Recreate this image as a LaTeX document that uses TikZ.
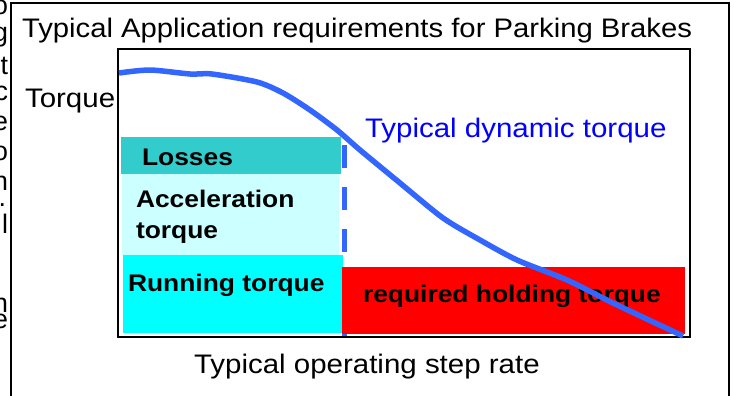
\documentclass[tikz,border=0pt]{standalone}
\usepackage{fontspec}
\setmainfont{Liberation Sans}
\definecolor{lossC}{HTML}{33CCCC}
\definecolor{accC}{HTML}{CCFFFF}
\definecolor{runC}{HTML}{00FFFF}
\definecolor{holdC}{HTML}{FF0000}
\definecolor{curveC}{HTML}{3366FF}
\definecolor{dynC}{HTML}{0000FF}
\newcommand{\sx}[1]{\scalebox{1.1}[1]{#1}}
\newcommand{\sxt}[1]{\scalebox{1.092}[1]{#1}}
\tikzset{
  regfont/.style={font=\fontsize{26.8}{30}\selectfont},
  boldfont/.style={font=\fontsize{24}{31}\selectfont\bfseries},
  lbl/.style={inner sep=0pt, outer sep=0pt, anchor=base west},
  cutl/.style={inner sep=0pt, outer sep=0pt, anchor=base east, regfont},
  fillbox/.style={draw=none, inner sep=0pt, outer sep=0pt, anchor=north west},
  frame/.style={draw=black, line width=2pt, fill=none, inner sep=0pt, outer sep=0pt, anchor=north west},
  dashline/.style={draw=curveC, line width=5pt, dash pattern=on 23pt off 19pt},
  torquecurve/.style={draw=curveC, line width=5.5pt, line join=round}
}
\begin{document}
\begin{tikzpicture}[x=1pt,y=-1pt]
\useasboundingbox (0,0) rectangle (734,396);
% cut-off letters at the left edge
\node[cutl] (c1) at (8,15) {o};
\node[cutl] (c2) at (8,42) {g};
\node[cutl] (c3) at (8,75) {t};
\node[cutl] (c4) at (8,100) {c};
\node[cutl] (c5) at (8,130) {e};
\node[cutl] (c6) at (8,160) {o};
\node[cutl] (c7) at (8,190) {n};
\node[cutl] (c8) at (6,206) {.};
\node[cutl] (c9) at (8,233) {l};
\node[cutl] (c10) at (8,312) {n};
\node[cutl] (c11) at (8,328) {e};
% outer frame
\node[frame, minimum width=718pt, minimum height=420pt] (outer) at (11,3) {};
% title
\node[lbl, regfont] (title) at (22,38) {\sxt{Typical Application requirements for Parking Brakes}};
\node[lbl, regfont] (ylab) at (25,107) {\sx{Torque}};
% dashed line behind boxes
\coordinate (d1) at (344.5,145);
\coordinate (d2) at (344.5,337);
\draw[dashline] (d1) -- (d2);
% boxes
\node[fillbox, fill=lossC, minimum width=220pt, minimum height=37pt] (losses) at (121,137) {};
\node[fillbox, fill=accC, minimum width=217pt, minimum height=81pt] (accel) at (122,174) {};
\node[fillbox, fill=runC, minimum width=220pt, minimum height=78pt] (running) at (123,255) {};
\node[fillbox, fill=holdC, minimum width=343pt, minimum height=67pt] (holding) at (342,267) {};
% inner frame
\node[frame, minimum width=572pt, minimum height=288pt] (plot) at (118,49) {};
% labels
\node[lbl, boldfont] (tloss) at (142,165) {\sx{Losses}};
\node[lbl, boldfont] (tacc1) at (136,207) {\sx{Acceleration}};
\node[lbl, boldfont] (tacc2) at (136,238) {\sx{torque}};
\node[lbl, boldfont] (trun) at (128,291) {\sx{Running torque}};
\node[lbl, boldfont] (thold) at (363,302) {\sx{required holding torque}};
\node[lbl, regfont, text=dynC] (tdyn) at (365,137) {\sx{Typical dynamic torque}};
\node[lbl, regfont] (xlab) at (194,373) {\sx{Typical operating step rate}};
% dynamic torque curve
\draw[torquecurve] plot[smooth, tension=0.45] coordinates {(119,73) (150,70) (190,74) (212,74) (257,82) (283,93) (310,110) (337,130) (360,150) (400,183) (443,218) (480,240) (517,260) (567,280) (613,303) (683,336)};
\end{tikzpicture}
\end{document}
